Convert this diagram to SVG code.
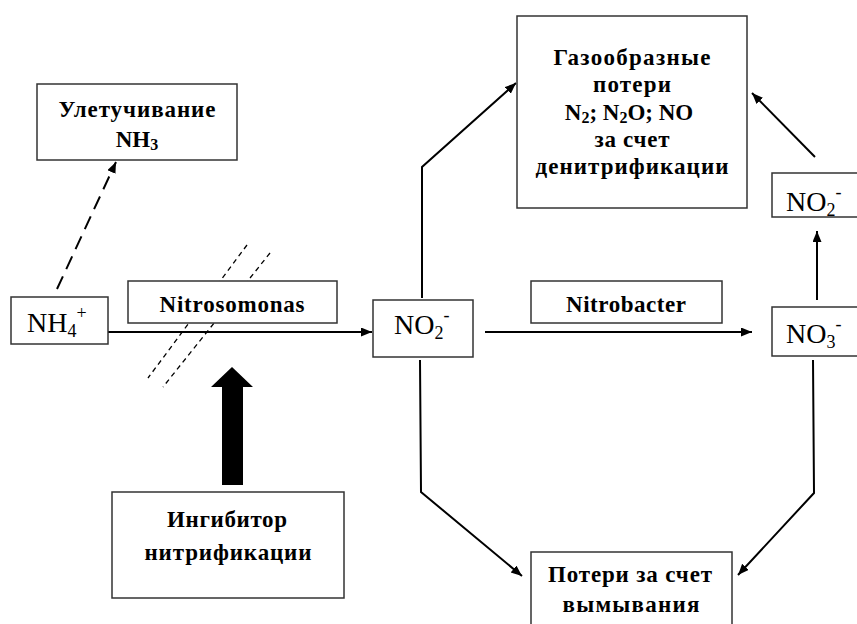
<svg xmlns="http://www.w3.org/2000/svg" width="857" height="624" viewBox="0 0 857 624">
<style>
.box{fill:#fff;stroke:#333;stroke-width:1.5}
.b{font-family:"Liberation Serif","Times New Roman",serif;font-weight:bold;font-size:23px;fill:#000;text-anchor:middle}
.r{font-family:"Liberation Serif","Times New Roman",serif;font-size:28px;fill:#000}
.ln{fill:none;stroke:#000;stroke-width:2}
.dash{fill:none;stroke:#000;stroke-width:1.3;stroke-dasharray:5 4}
</style>
<defs>
<marker id="ah" markerUnits="userSpaceOnUse" markerWidth="12" markerHeight="10" refX="11" refY="4.5" orient="auto">
<path d="M0,0 L11,4.5 L0,9 z" fill="#000"/>
</marker>
</defs>
<rect width="857" height="624" fill="#fff"/>

<g id="connectors">
<path class="ln" d="M57,289 L116,162" stroke-dasharray="14 8" marker-end="url(#ah)"/>
<path class="ln" d="M108,332 L372,332" marker-end="url(#ah)"/>
<path class="ln" d="M422,298 L422,167 L516,83" marker-end="url(#ah)"/>
<path class="ln" d="M485,332 L752,332" marker-end="url(#ah)"/>
<path class="ln" d="M817,300 L817,231" marker-end="url(#ah)"/>
<path class="ln" d="M815,157 L752,93" marker-end="url(#ah)"/>
<path class="ln" d="M420,360 L421,492 L522,576" marker-end="url(#ah)"/>
<path class="ln" d="M813,360 L814,493 L738,575" marker-end="url(#ah)"/>
<path class="dash" d="M247,245 L148,378"/>
<path class="dash" d="M270,253 L163,387"/>
<polygon points="222,485 243,485 243,387 253,387 232,367 211,387 222,387" fill="#000"/>
</g>

<g id="volatilization">
<rect class="box" x="37" y="84" width="200" height="76"/>
<text class="b" x="137" y="117" textLength="157">Улетучивание</text>
<text class="b" x="137" y="147">NH<tspan font-size="16" dy="3">3</tspan></text>
</g>

<g id="nh4">
<rect class="box" x="11" y="297" width="97" height="47"/>
<text class="r" x="27" y="332">NH<tspan font-size="18" dy="5">4</tspan><tspan font-size="18" dy="-18">+</tspan></text>
</g>

<g id="nitrosomonas">
<rect class="box" x="128" y="281" width="209" height="42"/>
<text class="b" x="232" y="312" textLength="145">Nitrosomonas</text>
</g>

<g id="no2-mid">
<rect class="box" x="373" y="300" width="100" height="57"/>
<text class="r" x="394" y="334">NO<tspan font-size="18" dy="5">2</tspan><tspan font-size="18" dy="-18">-</tspan></text>
</g>

<g id="nitrobacter">
<rect class="box" x="531" y="281" width="191" height="42"/>
<text class="b" x="626" y="312" textLength="120">Nitrobacter</text>
</g>

<g id="no3">
<rect class="box" x="772" y="307" width="100" height="49"/>
<text class="r" x="786" y="343">NO<tspan font-size="18" dy="5">3</tspan><tspan font-size="18" dy="-18">-</tspan></text>
</g>

<g id="no2-right">
<rect class="box" x="772" y="173" width="100" height="44"/>
<text class="r" x="786" y="211">NO<tspan font-size="18" dy="5">2</tspan><tspan font-size="18" dy="-18">-</tspan></text>
</g>

<g id="gaseous">
<rect class="box" x="517" y="16" width="230" height="192"/>
<text class="b" x="632" y="65" textLength="157">Газообразные</text>
<text class="b" x="632" y="92" textLength="78">потери</text>
<text class="b" x="629" y="120">N<tspan font-size="16" dy="3">2</tspan><tspan dy="-3">; N</tspan><tspan font-size="16" dy="3">2</tspan><tspan dy="-3">O; NO</tspan></text>
<text class="b" x="632" y="147" textLength="75">за счет</text>
<text class="b" x="632" y="174" textLength="193">денитрификации</text>
</g>

<g id="inhibitor">
<rect class="box" x="112" y="492" width="232" height="106"/>
<text class="b" x="227" y="527" textLength="120">Ингибитор</text>
<text class="b" x="228" y="560" textLength="167">нитрификации</text>
</g>

<g id="leaching">
<rect class="box" x="531" y="552" width="201" height="90"/>
<text class="b" x="630" y="582" textLength="164">Потери за счет</text>
<text class="b" x="631" y="612" textLength="137">вымывания</text>
</g>
</svg>
